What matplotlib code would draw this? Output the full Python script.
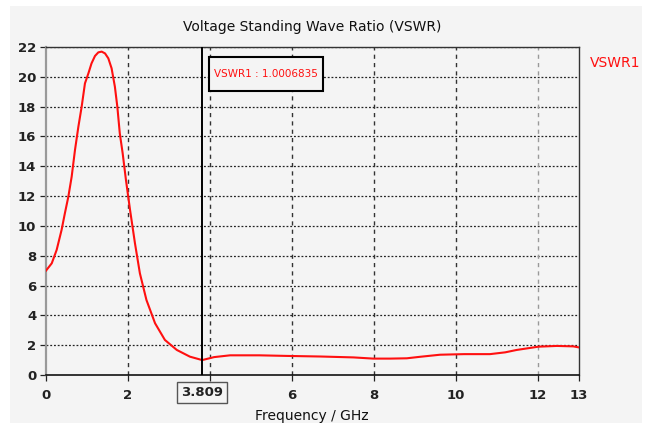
import matplotlib
matplotlib.use("Agg")
import matplotlib.pyplot as plt
from matplotlib.patches import Rectangle

# VSWR curve (frequency in GHz, VSWR)
freq = [0.0, 0.14, 0.26, 0.38, 0.46, 0.545, 0.626, 0.707, 0.79, 0.87, 0.95,
        1.034, 1.11, 1.195, 1.276, 1.358, 1.44, 1.52, 1.60, 1.68, 1.74, 1.80,
        1.87, 1.95, 2.05, 2.17, 2.29, 2.45, 2.66, 2.90, 3.19, 3.51, 3.81,
        4.10, 4.49, 5.20, 5.87, 6.70, 7.50, 7.98, 8.40, 8.80, 9.12,
        9.61, 10.20, 10.83, 11.20, 11.48, 12.01, 12.46, 12.86, 13.0]
vswr = [7.0, 7.49, 8.39, 9.73, 10.84, 11.96, 13.3, 15.09, 16.66, 18.0, 19.56,
        20.23, 20.9, 21.40, 21.64, 21.69, 21.57, 21.24, 20.57, 19.34, 17.99, 16.2,
        14.87, 13.08, 11.07, 8.83, 6.82, 5.03, 3.47, 2.35, 1.68, 1.23, 1.0006835,
        1.2, 1.32, 1.32, 1.28, 1.24, 1.18, 1.10, 1.10, 1.12, 1.22,
        1.36, 1.40, 1.40, 1.52, 1.68, 1.90, 1.95, 1.92, 1.85]

marker_freq = 3.809
marker_value = "1.0006835"
x_ticks = [0, 2, 4, 6, 8, 10, 12, 13]
x_ticklabels = ["0", "2", "", "6", "8", "10", "12", "13"]
y_ticks = list(range(0, 23, 2))

bg = "#f4f4f4"
plt.rcParams["font.family"] = ["DejaVu Sans"]

fig = plt.figure(figsize=(6.48, 4.23), dpi=100)
fig.patch.set_facecolor("white")
# grey panel behind the plot
fig.patches.append(Rectangle((10 / 648, 0), 632 / 648, 417 / 423,
                             transform=fig.transFigure, facecolor=bg,
                             edgecolor="none", zorder=-10))

ax = fig.add_axes([46 / 648, 48 / 423, 533 / 648, 328 / 423])
ax.set_zorder(5)
ax.set_facecolor(bg)

ax.plot(freq, vswr, color="#ff1010", linewidth=1.5, zorder=3)

ax.set_xlim(0, 13)
ax.set_ylim(0, 22)

# grid: dotted horizontal, dashed vertical
for y in y_ticks[1:]:
    ax.axhline(y, color="#222222", linestyle=(0, (1.5, 1.5)), linewidth=0.9, zorder=1)
for x in x_ticks[1:-1]:
    c = "#999999" if x == 12 else "#333333"
    ax.axvline(x, color=c, linestyle=(0, (3, 3)), linewidth=1.0, zorder=1)

# marker line
ax.axvline(marker_freq, color="black", linewidth=1.4, zorder=4)

ax.set_xticks(x_ticks)
ax.set_xticklabels(x_ticklabels)
ax.set_yticks(y_ticks)
ax.tick_params(axis="both", length=4, width=0.9, labelsize=9.5, colors="#222222")
ax.tick_params(axis="x", pad=6)
ax.tick_params(axis="y", pad=3)
for lbl in ax.get_xticklabels() + ax.get_yticklabels():
    lbl.set_fontweight("bold")

for side in ["top", "right"]:
    ax.spines[side].set_color("#333333")
    ax.spines[side].set_linewidth(1.0)
ax.spines["left"].set_color("#999999")
ax.spines["left"].set_linewidth(1.6)
ax.spines["bottom"].set_color("#111111")
ax.spines["bottom"].set_linewidth(1.2)

# boxed marker frequency label
ax.text(marker_freq, -0.053, f"{marker_freq:.3f}", transform=ax.get_xaxis_transform(),
        ha="center", va="center", fontsize=9.5, fontweight="bold", color="#222222",
        bbox=dict(boxstyle="square,pad=0.3", facecolor=bg, edgecolor="#555555",
                  linewidth=1.0))

# marker readout box (frame drawn separately so its height matches)
box_x0, box_x1 = 3.976, 6.75
box_y0, box_y1 = 19.05, 21.33
ax.add_patch(Rectangle((box_x0, box_y0), box_x1 - box_x0, box_y1 - box_y0,
                       facecolor=bg, edgecolor="black", linewidth=1.5, zorder=5))
ax.text((box_x0 + box_x1) / 2, (box_y0 + box_y1) / 2, f"VSWR1 : {marker_value}",
        ha="center", va="center", fontsize=7.5, color="#ff1010", zorder=6)

# legend label outside the plot
fig.text(590 / 648, 1 - 63 / 423, "VSWR1", color="#ff1010", fontsize=10,
         ha="left", va="center")

fig.text(312 / 648, 1 - 27 / 423, "Voltage Standing Wave Ratio (VSWR)",
         ha="center", va="center", fontsize=10, color="#111111")
fig.text(312 / 648, 1 - 416 / 423, "Frequency / GHz",
         ha="center", va="center", fontsize=10, color="#111111")

fig.savefig("out.png", dpi=100, facecolor=fig.get_facecolor())
